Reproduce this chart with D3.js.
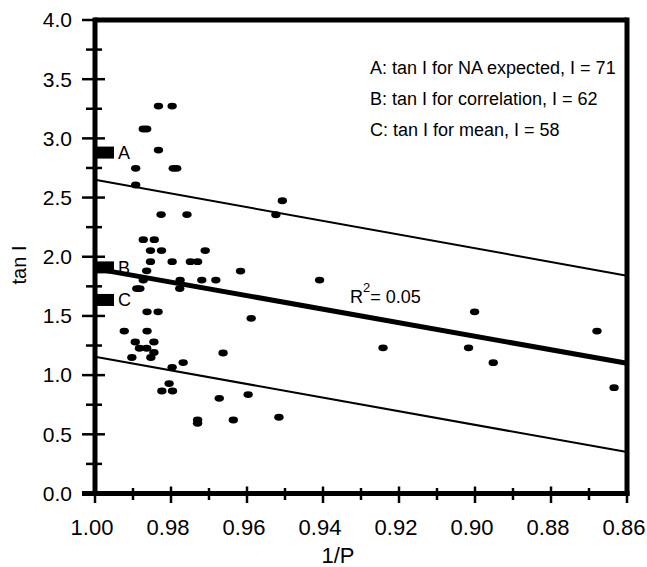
<!DOCTYPE html>
<html>
<head>
<meta charset="utf-8">
<script src="https://cdn.jsdelivr.net/npm/d3@7/dist/d3.min.js"></script>
<style>
  html, body { margin: 0; padding: 0; background: #fff; }
  svg { display: block; font-family: "Liberation Sans", Arial, sans-serif; }
</style>
</head>
<body>
<svg id="chart" width="647" height="567"></svg>
<script>
// ---- data ----
const invP = [0.9833,0.9797,0.9873,0.9864,0.9833,0.9893,0.9794,0.9785,0.9893,0.9826,
  0.9758,0.9507,0.9524,0.9873,0.9844,0.9854,0.9825,0.9710,0.9854,0.9797,
  0.9749,0.9730,0.9864,0.9617,0.9873,0.9776,0.9719,0.9682,0.9409,0.9890,
  0.9882,0.9777,0.9863,0.9834,0.9589,0.9923,0.9863,0.9001,0.8679,0.9894,
  0.9845,0.9883,0.9864,0.9845,0.9903,0.9853,0.9663,0.9242,0.9017,0.9768,
  0.9797,0.8952,0.9805,0.9824,0.9796,0.9673,0.9597,0.8634,0.9730,0.9730,
  0.9636,0.9516];
const tanI = [3.273,3.273,3.079,3.079,2.901,2.747,2.747,2.747,2.606,2.356,
  2.356,2.473,2.355,2.144,2.144,2.052,2.052,2.052,1.958,1.958,
  1.958,1.958,1.881,1.879,1.803,1.803,1.803,1.803,1.803,1.731,
  1.731,1.731,1.535,1.535,1.480,1.372,1.372,1.535,1.372,1.280,
  1.280,1.227,1.227,1.191,1.149,1.149,1.187,1.231,1.231,1.106,
  1.066,1.105,0.929,0.866,0.866,0.804,0.836,0.894,0.621,0.593,
  0.621,0.644];
const upperLine = [[1.00, 2.65], [0.86, 1.84]];
const regLine   = [[1.00, 1.90], [0.86, 1.10]];
const lowerLine = [[1.00, 1.155], [0.86, 0.35]];
const markerLabels = ["A", "B", "C"];
const markerValues = [2.88, 1.91, 1.635];
const legendLines = ["A: tan I for NA expected, I = 71", "B: tan I for correlation, I = 62", "C: tan I for mean, I = 58"];
const r2Text = "0.05";
const xMajorTicks = [1.00, 0.98, 0.96, 0.94, 0.92, 0.90, 0.88, 0.86];
const xMajorLabels = ["1.00", "0.98", "0.96", "0.94", "0.92", "0.90", "0.88", "0.86"];
const xMinorTicks = [0.99, 0.97, 0.95, 0.93, 0.91, 0.89, 0.87];
const yMajorTicks = [0.0, 0.5, 1.0, 1.5, 2.0, 2.5, 3.0, 3.5, 4.0];
const yMajorLabels = ["0.0", "0.5", "1.0", "1.5", "2.0", "2.5", "3.0", "3.5", "4.0"];
const yMinorTicks = [0.25, 0.75, 1.25, 1.75, 2.25, 2.75, 3.25, 3.75];

// ---- scales ----
const x = d3.scaleLinear().domain([1.00, 0.86]).range([95, 627]);
const y = d3.scaleLinear().domain([0, 4]).range([493.5, 20]);
const svg = d3.select("#chart");

// regression and bounding lines
const line = d3.line().x(d => x(d[0])).y(d => y(d[1]));
svg.append("path").attr("d", line(upperLine)).attr("stroke", "#000").attr("stroke-width", 2).attr("fill", "none");
svg.append("path").attr("d", line(lowerLine)).attr("stroke", "#000").attr("stroke-width", 2).attr("fill", "none");
svg.append("path").attr("d", line(regLine)).attr("stroke", "#000").attr("stroke-width", 5).attr("fill", "none");

// points
svg.append("g").selectAll("ellipse").data(invP.map((v, i) => [v, tanI[i]])).join("ellipse")
  .attr("cx", d => x(d[0])).attr("cy", d => y(d[1]))
  .attr("rx", 4.7).attr("ry", 3.4).attr("fill", "#000");

// markers A B C
const mk = svg.append("g");
markerValues.forEach((v, i) => {
  mk.append("rect").attr("x", x(1.00)).attr("y", y(v) - 6).attr("width", 19).attr("height", 12).attr("fill", "#000");
  mk.append("text").attr("x", x(1.00) + 23).attr("y", y(v) + 6.5)
    .attr("font-size", 18).text(markerLabels[i]);
});

// frame / axes
const fr = svg.append("g").attr("stroke", "#000").attr("fill", "none");
fr.append("line").attr("x1", x(1.00)).attr("x2", x(0.86)).attr("y1", y(4)).attr("y2", y(4)).attr("stroke-width", 5);
fr.append("line").attr("x1", x(0.86)).attr("x2", x(0.86)).attr("y1", y(4) - 2.5).attr("y2", y(0) + 2.5).attr("stroke-width", 5);
fr.append("line").attr("x1", x(1.00)).attr("x2", x(1.00)).attr("y1", y(4) - 2.5).attr("y2", y(0) + 2.5).attr("stroke-width", 5);
fr.append("line").attr("x1", x(1.00) - 13).attr("x2", x(0.86) + 2.5).attr("y1", y(0)).attr("y2", y(0)).attr("stroke-width", 5);

// y ticks
yMajorTicks.forEach(t => {
  fr.append("line").attr("x1", x(1.00) - 13).attr("x2", x(1.00) + 10).attr("y1", y(t)).attr("y2", y(t)).attr("stroke-width", 2.5);
});
yMinorTicks.forEach(t => {
  fr.append("line").attr("x1", x(1.00) - 9).attr("x2", x(1.00) + 7).attr("y1", y(t)).attr("y2", y(t)).attr("stroke-width", 2.5);
});
// x ticks
xMajorTicks.forEach(t => {
  fr.append("line").attr("x1", x(t)).attr("x2", x(t)).attr("y1", y(0) - 7).attr("y2", y(0) + 9.5).attr("stroke-width", 2.5);
});
xMinorTicks.forEach(t => {
  fr.append("line").attr("x1", x(t)).attr("x2", x(t)).attr("y1", y(0) - 5.5).attr("y2", y(0) + 6.5).attr("stroke-width", 2.5);
});

// tick labels
const tl = svg.append("g").attr("fill", "#000");
yMajorTicks.forEach((t, i) => {
  tl.append("text").attr("x", 72).attr("y", y(t)).attr("dy", "0.35em")
    .attr("text-anchor", "end").attr("font-size", 21).text(yMajorLabels[i]);
});
xMajorTicks.forEach((t, i) => {
  tl.append("text").attr("x", x(t) - 3).attr("y", 535)
    .attr("text-anchor", "middle").attr("font-size", 22).text(xMajorLabels[i]);
});

// axis titles
svg.append("text").attr("x", 338).attr("y", 563).attr("text-anchor", "middle").attr("font-size", 22).text("1/P");
svg.append("text").attr("transform", "translate(26,265) rotate(-90)").attr("text-anchor", "middle")
  .attr("font-size", 20).text("tan I");

// legend
legendLines.forEach((s, i) => {
  svg.append("text").attr("x", 370).attr("y", 74 + i * 31).attr("font-size", 18).text(s);
});

// R^2 label
const r2 = svg.append("text").attr("x", 350).attr("y", 303).attr("font-size", 18);
r2.append("tspan").text("R");
r2.append("tspan").attr("font-size", 13).attr("dy", -11).text("2");
r2.append("tspan").attr("dy", 11).text("= " + r2Text);
</script>
</body>
</html>
